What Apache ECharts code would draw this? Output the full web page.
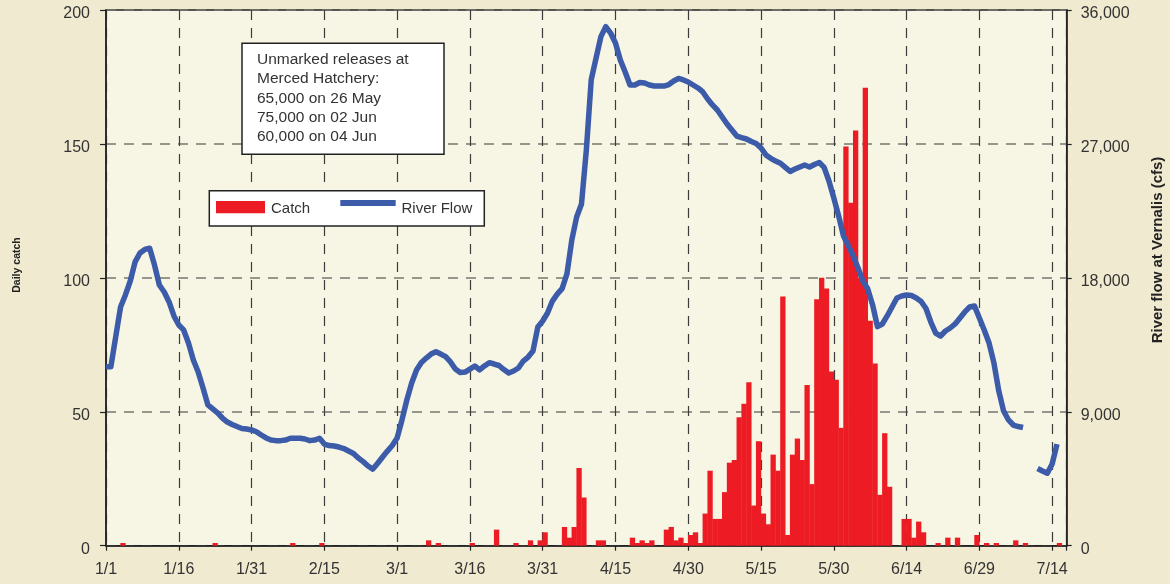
<!DOCTYPE html>
<html>
<head>
<meta charset="utf-8">
<script src="https://cdn.jsdelivr.net/npm/echarts@6/dist/echarts.min.js"></script>
<style>
  html, body { margin: 0; padding: 0; background: #F0EAD0; }
  #chart { width: 1170px; height: 584px; }
</style>
</head>
<body>
<div id="chart"></div>
<script>
// Tick labels along the date axis, one every 15 days starting 1 January (leap year)
const dayTickLabels = ['1/1', '1/16', '1/31', '2/15', '3/1', '3/16', '3/31',
  '4/15', '4/30', '5/15', '5/30', '6/14', '6/29', '7/14'];

// Daily catch, one value per day from 1 January (day 0) to 16 July (day 197)
const catchCounts = [
  0, 0, 0, 1, 0, 0, 0, 0, 0, 0, 0, 0, 0, 0, 0,            // 1/1 - 1/15
  0, 0, 0, 0, 0, 0, 0, 1, 0, 0, 0, 0, 0, 0, 0,            // 1/16 - 1/30
  0, 0, 0, 0, 0, 0, 0, 0, 1, 0, 0, 0, 0, 0, 1,            // 1/31 - 2/14
  0, 0, 0, 0, 0, 0, 0, 0, 0, 0, 0, 0, 0, 0, 0,            // 2/15 - 2/29
  0, 0, 0, 0, 0, 0, 2, 0, 1, 0, 0, 0, 0, 0, 0,            // 3/1 - 3/15
  1, 0, 0, 0, 0, 6, 0, 0, 0, 1, 0, 0, 2, 0, 2,            // 3/16 - 3/30
  5, 0, 0, 0, 7, 3, 7, 29, 18, 0, 0, 2, 2, 0, 0,          // 3/31 - 4/14
  0, 0, 0, 3, 1, 2, 1, 2, 0, 0, 6, 7, 2, 3, 1,            // 4/15 - 4/29
  4, 5, 1, 12, 28, 10, 10, 20, 31, 32, 48, 53, 61, 15, 39, // 4/30 - 5/14
  12, 8, 34, 28, 93, 4, 34, 40, 32, 60, 23, 92, 100, 96, 65, // 5/15 - 5/29
  62, 44, 149, 128, 155, 100, 171, 84, 68, 19, 42, 22, 0, 0, 10, // 5/30 - 6/13
  10, 3, 9, 5, 0, 0, 1, 0, 3, 0, 3, 0, 0, 0, 4,           // 6/14 - 6/28
  0, 1, 0, 1, 0, 0, 0, 2, 0, 1, 0, 0, 0, 0, 0,            // 6/29 - 7/13
  0, 1, 0                                                  // 7/14 - 7/16
];

// River flow at Vernalis (cfs), one value per day; null where no reading exists
const riverFlow = [
  12030, 12030, 14030, 16040, 16850, 17790, 19070, 19670, 19910, 19990,
  18860, 17520, 17050, 16380, 15440, 14830, 14500, 13620, 12480, 11670,
  10600, 9460, 9190, 8920, 8580, 8310, 8150, 8010, 7880, 7840,
  7780, 7660, 7440, 7240, 7100, 7060, 7060, 7100, 7220, 7220,
  7220, 7170, 7060, 7100, 7220, 6830, 6730, 6700, 6630, 6530,
  6360, 6200, 5890, 5650, 5360, 5150, 5540, 5960, 6360, 6730,
  7240, 8450, 9790, 10930, 11810, 12310, 12610, 12880, 13040, 12880,
  12700, 12350, 11870, 11640, 11670, 11870, 12080, 11810, 12080, 12300,
  12210, 12110, 11840, 11610, 11740, 11940, 12410, 12680, 13080, 14700,
  15100, 15640, 16440, 16910, 17280, 18260, 20540, 22090, 22960, 26590,
  31300, 32770, 34210, 34880, 34450, 33780, 32640, 31830, 30960, 30960,
  31130, 31090, 30960, 30890, 30890, 30890, 30990, 31230, 31400, 31300,
  31160, 30960, 30760, 30490, 30020, 29620, 29280, 28810, 28340, 27940,
  27530, 27420, 27330, 27160, 27030, 26730, 26260, 26030, 25850, 25700,
  25420, 25150, 25310, 25450, 25580, 25450, 25620, 25750, 25420, 24510,
  23370, 22160, 20810, 20140, 19470, 18660, 17790, 17250, 16180, 14720,
  14900, 15440, 16040, 16650, 16780, 16850, 16810, 16650, 16410, 15940,
  15030, 14290, 14090, 14430, 14630, 14900, 15300, 15710, 16040, 16110,
  15300, 14500, 13620, 12280, 10400, 9050, 8450, 8110, 8010, 7940,
  null, null, 5190, 5020, 4870, 5490, 6830, null
];

// Release note shown in the upper-left box
const noteLines = ['Unmarked releases at', 'Merced Hatchery:',
  '65,000 on 26 May', '75,000 on 02 Jun', '60,000 on 04 Jun'];

const FONT = '"Liberation Sans", Arial, sans-serif';
const TEXT = '#333333';

function withCommas(n) {
  return String(n).replace(/\B(?=(\d{3})+(?!\d))/g, ',');
}

// Value labels sit a little below their tick, so they go through a rich style with top padding
const lowered = {
  v: { fontSize: 16, fontFamily: FONT, color: TEXT, padding: [7, 0, 0, 0] }
};

const chart = echarts.init(document.getElementById('chart'), null, { renderer: 'canvas' });

const noteText = noteLines.map((line, i) => ({
  type: 'text',
  left: 257,
  top: 52 + i * 19.2,
  z: 101,
  style: { text: line, font: '15.5px ' + FONT, fill: TEXT }
}));

chart.setOption({
  animation: false,
  backgroundColor: '#F0EAD0',
  grid: {
    left: 106, right: 103.3, top: 10, bottom: 38.3,
    show: true,
    backgroundColor: '#F7F5E4',
    borderColor: '#222',
    borderWidth: 1.5
  },
  xAxis: {
    type: 'value',
    min: 0,
    max: 198,
    interval: 15,
    axisLine: { show: true, lineStyle: { color: '#222', width: 1.5 } },
    axisTick: { show: true, length: 5, lineStyle: { color: '#222', width: 1.2 } },
    axisLabel: {
      margin: 16,
      fontSize: 16,
      fontFamily: FONT,
      color: TEXT,
      formatter: v => (v % 15 === 0 && v / 15 < dayTickLabels.length) ? dayTickLabels[v / 15] : ''
    },
    splitLine: {
      show: true,
      lineStyle: { color: '#3c3c3c', width: 1.2, type: [10, 8] }
    }
  },
  yAxis: [
    {
      type: 'value',
      min: 0, max: 200, interval: 50,
      axisLine: { show: true, lineStyle: { color: '#222', width: 1.5 } },
      axisTick: { show: true, length: 6, lineStyle: { color: '#222', width: 1.2 } },
      axisLabel: {
        margin: 16, fontSize: 16, fontFamily: FONT, color: TEXT,
        formatter: v => '{v|' + v + '}',
        rich: lowered
      },
      splitLine: { show: true, lineStyle: { color: '#77776f', width: 1.6, type: [10, 8] } }
    },
    {
      type: 'value',
      min: 0, max: 36000, interval: 9000,
      position: 'right',
      axisLine: { show: true, lineStyle: { color: '#222', width: 1.5 } },
      axisTick: { show: true, length: 5, lineStyle: { color: '#222', width: 1.2 } },
      axisLabel: {
        margin: 14, fontSize: 16, fontFamily: FONT, color: TEXT,
        formatter: v => '{v|' + withCommas(v) + '}',
        rich: lowered
      },
      splitLine: { show: false }
    }
  ],
  series: [
    {
      name: 'Catch',
      type: 'bar',
      yAxisIndex: 0,
      barWidth: 5.3,
      itemStyle: { color: '#ED1C24', borderWidth: 0 },
      data: catchCounts.map((v, i) => [i + 0.5, v])
    },
    {
      name: 'River Flow',
      type: 'line',
      yAxisIndex: 1,
      showSymbol: false,
      connectNulls: false,
      lineStyle: { color: '#3C5BA9', width: 5.5, join: 'round' },
      data: riverFlow.map((v, i) => [i, v])
    }
  ],
  graphic: [
    // Axis titles
    {
      type: 'text', x: 17, y: 265, rotation: Math.PI / 2, z: 101,
      style: { text: 'Daily catch', font: 'bold 10.5px ' + FONT, fill: '#222', align: 'center', verticalAlign: 'middle' }
    },
    {
      type: 'text', x: 1158, y: 250, rotation: Math.PI / 2, z: 101,
      style: { text: 'River flow at Vernalis (cfs)', font: 'bold 15px ' + FONT, fill: '#222', align: 'center', verticalAlign: 'middle' }
    },
    // Release note box
    {
      type: 'rect', z: 100,
      shape: { x: 242, y: 43.3, width: 202, height: 111 },
      style: { fill: '#ffffff', stroke: '#222', lineWidth: 1.5 }
    },
    ...noteText,
    // Legend box
    {
      type: 'rect', z: 100,
      shape: { x: 209.3, y: 190.7, width: 275, height: 35.3 },
      style: { fill: '#ffffff', stroke: '#222', lineWidth: 1.5 }
    },
    {
      type: 'rect', z: 101,
      shape: { x: 216, y: 201, width: 49, height: 12.3 },
      style: { fill: '#ED1C24' }
    },
    {
      type: 'text', x: 271, y: 209, z: 101,
      style: { text: 'Catch', font: '15px ' + FONT, fill: TEXT, verticalAlign: 'middle' }
    },
    {
      type: 'line', z: 101,
      shape: { x1: 340.3, y1: 203, x2: 395.7, y2: 203 },
      style: { stroke: '#3C5BA9', lineWidth: 6 }
    },
    {
      type: 'text', x: 401.5, y: 209, z: 101,
      style: { text: 'River Flow', font: '15px ' + FONT, fill: TEXT, verticalAlign: 'middle' }
    }
  ]
});
</script>
</body>
</html>
